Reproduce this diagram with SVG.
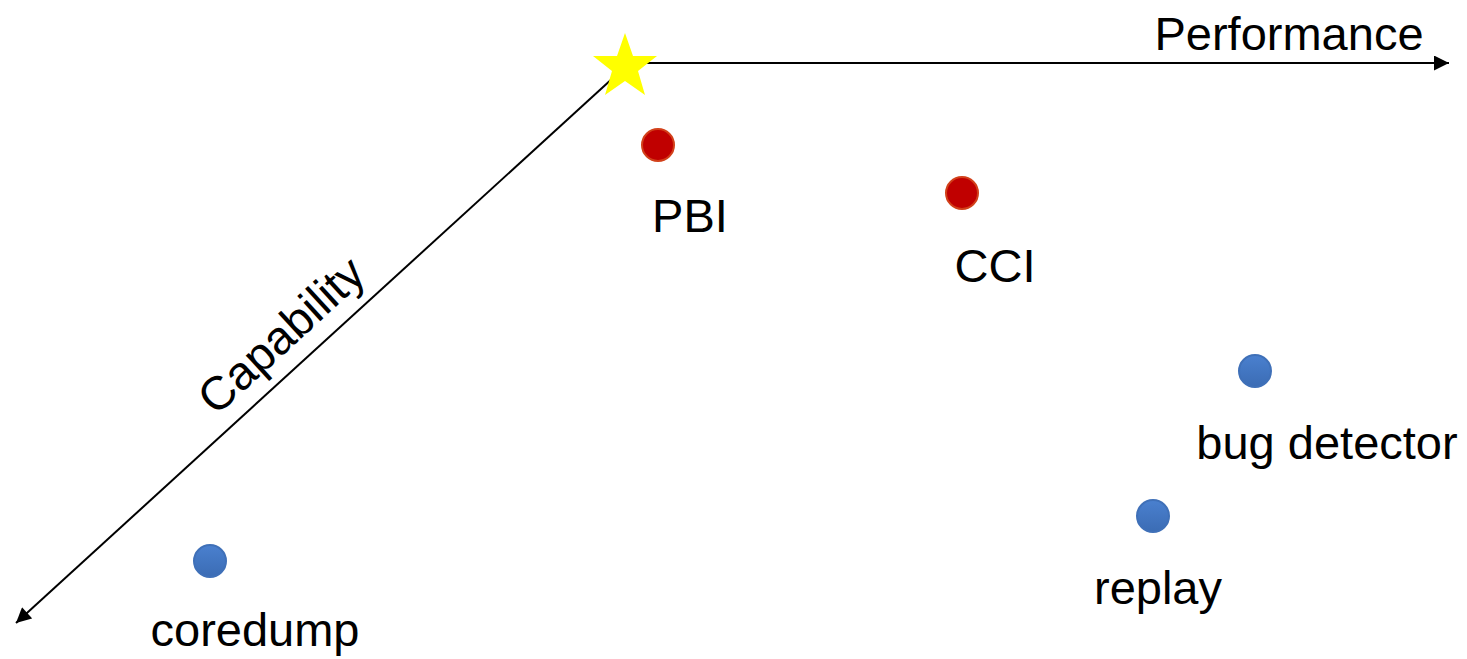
<svg xmlns="http://www.w3.org/2000/svg" width="1467" height="659" viewBox="0 0 1467 659">
<defs>
<marker id="arr" viewBox="0 0 10 10" refX="10" refY="5" markerWidth="8" markerHeight="7.5" orient="auto" markerUnits="strokeWidth">
<path d="M0,0 L10,5 L0,10 z" fill="#000"/>
</marker>
<linearGradient id="blue" x1="0" y1="0" x2="0" y2="1">
<stop offset="0" stop-color="#4a80cf"/>
<stop offset="1" stop-color="#3b6cb4"/>
</linearGradient>
</defs>
<style>
.lbl{font-family:"Liberation Sans",Arial,sans-serif;font-size:47px;fill:#000}
.red{fill:#c00000;stroke:#d2401a;stroke-width:2}
.blu{fill:url(#blue);stroke:#3f70b8;stroke-width:2}
.axis{stroke:#000;stroke-width:2;fill:none}
</style>
<g id="connectors">
<line class="axis" x1="625" y1="63" x2="1449" y2="63" marker-end="url(#arr)"/>
<line class="axis" x1="625" y1="67" x2="16" y2="623" marker-end="url(#arr)"/>
</g>
<g id="star">
<polygon points="625,33 633,56 657,56 638,71 645,95 625,81 605,95 612,71 593,56 617,56" fill="#ffff00"/>
</g>
<g id="performance"><text class="lbl" x="1289" y="50" text-anchor="middle">Performance</text></g>
<g id="capability"><text class="lbl" x="0" y="0" text-anchor="middle" transform="translate(292,347) rotate(-42.5)">Capability</text></g>
<g id="pbi"><circle class="red" cx="658" cy="145" r="16"/><text class="lbl" x="690" y="232" text-anchor="middle">PBI</text></g>
<g id="cci"><circle class="red" cx="962" cy="193" r="16"/><text class="lbl" x="995" y="282" text-anchor="middle">CCI</text></g>
<g id="bugdetector"><circle class="blu" cx="1255" cy="371" r="16"/><text class="lbl" x="1327" y="459" text-anchor="middle">bug detector</text></g>
<g id="replay"><circle class="blu" cx="1153" cy="516" r="16"/><text class="lbl" x="1158" y="604" text-anchor="middle">replay</text></g>
<g id="coredump"><circle class="blu" cx="210" cy="561" r="16"/><text class="lbl" x="255" y="646" text-anchor="middle">coredump</text></g>
</svg>
